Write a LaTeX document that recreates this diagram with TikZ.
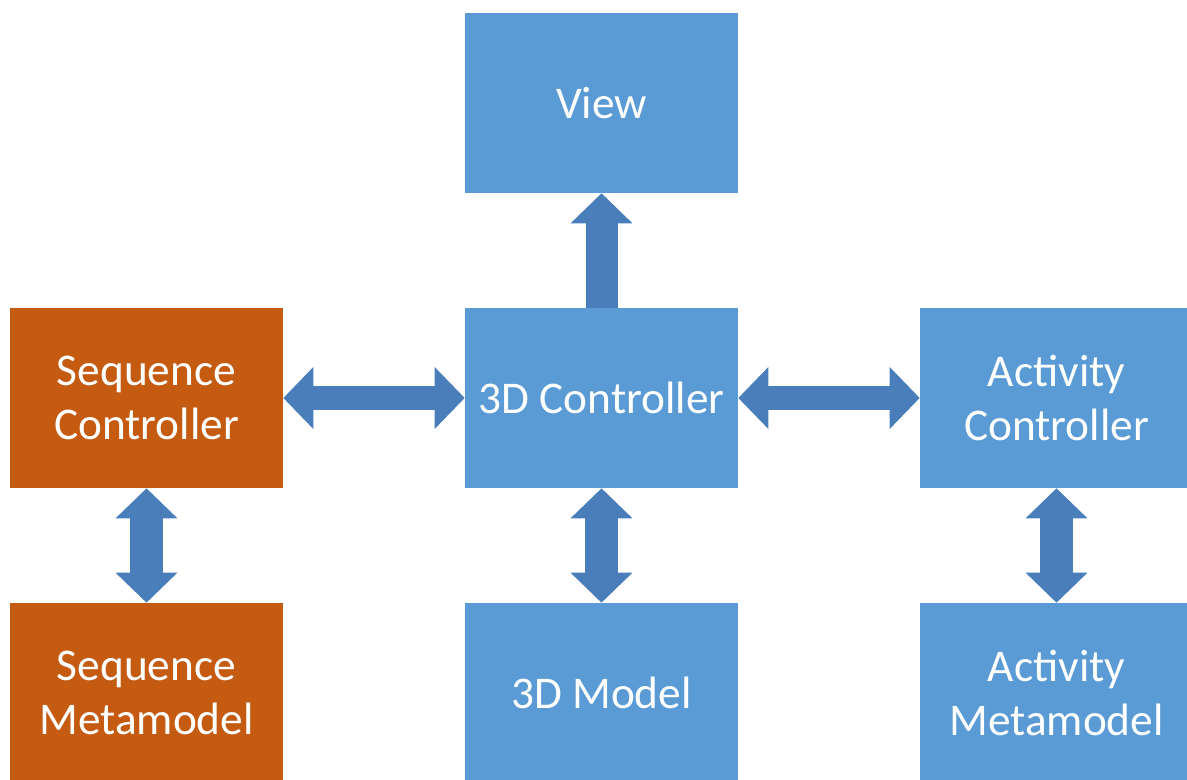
\documentclass[tikz,border=0pt]{standalone}
\usepackage{fontspec}
\setmainfont{Carlito}
\usetikzlibrary{arrows.meta}

\definecolor{boxblue}{HTML}{5B9BD5}
\definecolor{boxorange}{HTML}{C55A11}
\definecolor{arrowblue}{HTML}{4A7EBB}

\begin{document}
\begin{tikzpicture}[x=0.75pt, y=-0.75pt,
	>={Triangle[length=22.5pt, width=45pt]},
	block/.style={fill=boxblue, text=white, align=center,
	              minimum width=204.75pt, minimum height=135pt,
	              font=\fontsize{34}{40}\selectfont},
	seqblock/.style={block, fill=boxorange},
	hlink/.style={draw=arrowblue, line width=18pt, <->},
	vlink/.style={hlink, line width=25pt},
	uplink/.style={draw=arrowblue, line width=24pt, ->}]
	\clip (0,0) rectangle (1187,779);

	% Boxes
	\node (view)  at (601.5,103) [block] {View};
	\node (ctrl)  at (601.5,398) [block] {3D Controller};
	\node (model) at (601.5,693) [block] {3D Model};
	\node (seqc)  at (146.5,398) [seqblock] {Sequence\\Controller};
	\node (seqm)  at (146.5,693) [seqblock] {Sequence\\Metamodel};
	\node (actc)  at (1056.5,398) [block] {Activity\\Controller};
	\node (actm)  at (1056.5,693) [block] {Activity\\Metamodel};

	% Block arrows between boxes
	\draw [uplink] (ctrl) -- (view);
	\draw [hlink] (seqc) -- (ctrl);
	\draw [hlink] (ctrl) -- (actc);
	\foreach \a/\b in {seqc/seqm, ctrl/model, actc/actm}{
		\draw [vlink] (\a) -- (\b);
	}
\end{tikzpicture}
\end{document}
